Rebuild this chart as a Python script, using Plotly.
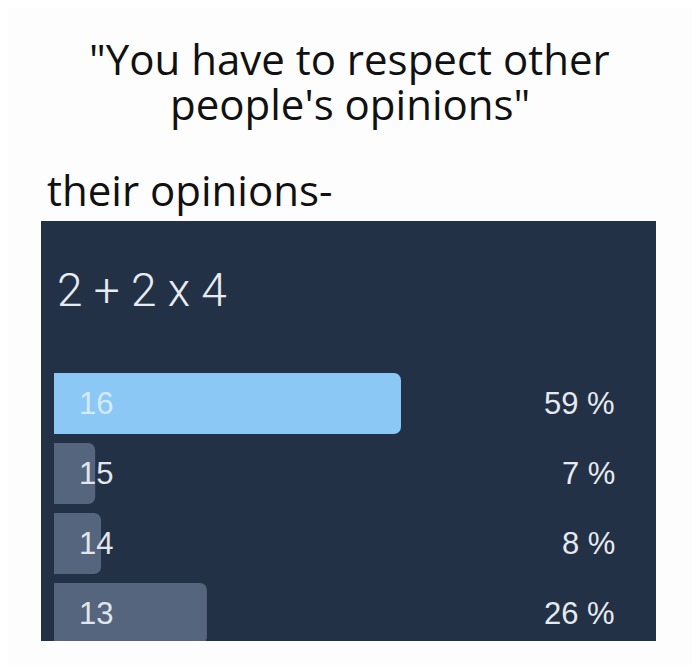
import plotly.graph_objects as go

# ---- data ----
answers = ["16", "15", "14", "13"]
percents = [59, 7, 8, 26]
question = "2 + 2 x 4"
title_line1 = "\"You have to respect other"
title_line2 = "people's opinions\""
subtitle = "their opinions-"

# ---- styles ----
panel_color = "#223146"
bar_colors = ["#8cc8f5", "#55657e", "#55657e", "#55657e"]
label_colors = ["#d4ebfb", "#e2e6ec", "#e2e6ec", "#e2e6ec"]
label_font = "Liberation Sans, Arial, sans-serif"

fig = go.Figure()
fig.add_trace(go.Bar(
    x=percents,
    y=list(range(len(answers))),
    orientation="h",
    marker=dict(color=bar_colors, line=dict(width=0), cornerradius=7),
    width=0.87,
    hoverinfo="skip",
))

annotations = []
for i, (a, p, c) in enumerate(zip(answers, percents, label_colors)):
    annotations.append(dict(
        x=0, y=i, xref="x", yref="y", text=a, showarrow=False,
        xanchor="left", yanchor="middle", xshift=23,
        font=dict(family=label_font, size=31, color=c),
    ))
    annotations.append(dict(
        x=0.9366, y=i, xref="paper", yref="y", text=f"{p} %", showarrow=False,
        xanchor="right", yanchor="middle",
        font=dict(family=label_font, size=31, color="#e6e9ef"),
    ))

annotations.append(dict(
    x=0.0228, y=0.836, xref="paper", yref="paper", text=question, showarrow=False,
    xanchor="left", yanchor="middle",
    font=dict(family="Roboto, sans-serif", size=46, color="#e8ebef", weight=300),
))
title_font = dict(family="Open Sans, Noto Sans, sans-serif", size=42, color="#111111")
annotations.append(dict(
    x=0.5024, y=1.388, xref="paper", yref="paper", text=title_line1, showarrow=False,
    xanchor="center", yanchor="middle", font=title_font,
))
annotations.append(dict(
    x=0.5024, y=1.279, xref="paper", yref="paper", text=title_line2, showarrow=False,
    xanchor="center", yanchor="middle", font=title_font,
))
annotations.append(dict(
    x=0.0065, y=1.074, xref="paper", yref="paper", text=subtitle, showarrow=False,
    xanchor="left", yanchor="middle", font=title_font,
))

fig.update_layout(
    width=692, height=657,
    margin=dict(l=33, r=44, t=213, b=24),
    paper_bgcolor="#fdfdfd",
    plot_bgcolor=panel_color,
    showlegend=False,
    annotations=annotations,
    xaxis=dict(range=[-2.21, 102.36], visible=False, showgrid=False, zeroline=False, fixedrange=True),
    yaxis=dict(tickvals=list(range(len(answers))), ticktext=answers,
               range=[3.393, -2.607], visible=False, showgrid=False, zeroline=False, fixedrange=True),
)

fig.write_html("out.html", config={"displayModeBar": False})
